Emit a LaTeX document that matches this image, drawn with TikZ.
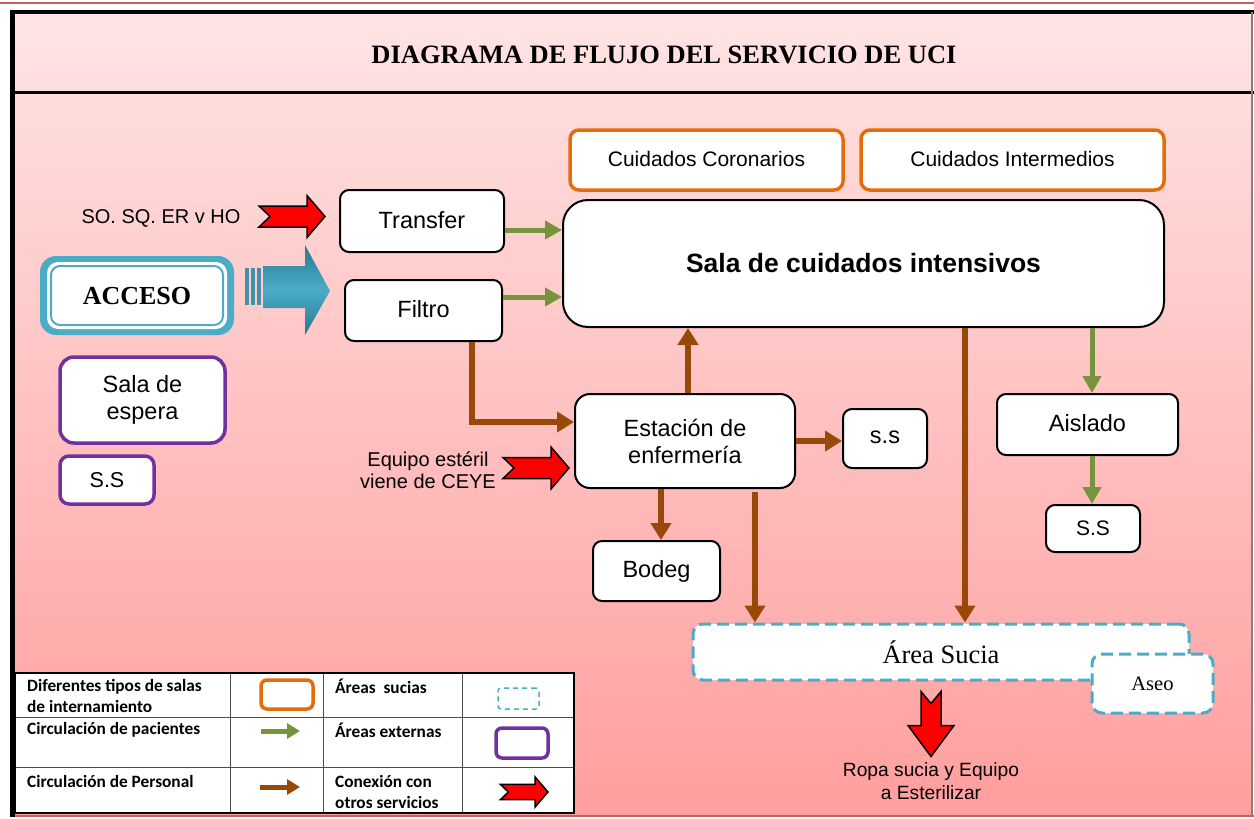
\documentclass[tikz,border=0pt]{standalone}
\usepackage{fontspec}
\setmainfont{Liberation Serif}
\setsansfont{Liberation Sans}
\newfontfamily\calib{Carlito}
\usetikzlibrary{arrows.meta,calc}
\definecolor{orng}{RGB}{228,108,10}
\definecolor{purp}{RGB}{112,48,160}
\definecolor{tealc}{RGB}{75,172,198}
\definecolor{tealdk}{RGB}{40,120,145}
\definecolor{grn}{RGB}{119,147,60}
\definecolor{brn}{RGB}{152,72,7}
\definecolor{bgtop}{RGB}{255,228,228}
\definecolor{bgbot}{RGB}{255,158,158}
\definecolor{frred}{RGB}{200,95,95}
\newcommand{\fsz}[2]{\fontsize{#1}{#2}\selectfont}
\newcommand{\up}[1]{\raisebox{3pt}{#1}}
\tikzset{
  box/.style={draw=black, line width=2pt, fill=white, rounded corners=9pt,
    font=\sffamily\fsz{23.5}{27}, align=center, inner sep=0pt},
  obox/.style={box, draw=orng, line width=3.5pt, font=\sffamily\fsz{21}{24}},
  pbox/.style={box, draw=purp, line width=3.5pt},
  dbox/.style={draw=tealc, line width=3pt, dash pattern=on 12pt off 6pt, fill=white,
    rounded corners=10pt, inner sep=0pt, font=\rmfamily},
  lbl/.style={font=\sffamily\fsz{20}{22.5}, align=center, inner sep=0pt},
  garrow/.style={draw=grn, line width=5pt, -{Triangle[length=17pt,width=18pt]}},
  barrow/.style={draw=brn, line width=6pt, -{Triangle[length=17pt,width=20pt]}},
  legtxt/.style={font=\calib\bfseries\fsz{17.3}{21}, align=left, inner sep=0pt, anchor=west},
  redarrow/.pic={\draw[line width=1.5pt, fill=red, line join=miter]
    (-66,-10.5) -- (-18,-10.5) -- (-18,-21) -- (0,0) -- (-18,21) -- (-18,10.5)
    -- (-66,10.5) -- (-55,0) -- cycle;},
  redown/.pic={\draw[line width=1.5pt, fill=red, line join=miter]
    (-10,-65) -- (0,-53) -- (10,-65) -- (10,-31) -- (23,-31) -- (0,0)
    -- (-23,-31) -- (-10,-31) -- cycle;}
}
\begin{document}
\begin{tikzpicture}[x=1pt,y=-1pt]
\useasboundingbox (0,0) rectangle (1254,819);
\fill[white] (0,0) rectangle (1254,819);
\shade[top color=bgtop, bottom color=bgbot] (10,12) rectangle (1252,816);
% frame
\draw[frred, line width=2pt] (0,3) -- (1254,3);
\draw[black, line width=4pt] (10,12) -- (1254,12);
\draw[black, line width=3pt] (10,92) -- (1254,92);
\draw[frred, line width=2pt] (10,816) -- (1254,816);
\draw[gray, line width=1.5pt] (1252,12) -- (1252,816);
\draw[black, line width=5pt] (12,10) -- (12,817);
\node[font=\rmfamily\bfseries\fsz{26.5}{30}, inner sep=0pt] (title) at (664,55) {DIAGRAMA DE FLUJO DEL SERVICIO DE UCI};

% main nodes
\node[obox, minimum width=273pt, minimum height=60pt] (cc) at (706.5,160) {\up{Cuidados Coronarios}};
\node[obox, minimum width=303pt, minimum height=60pt] (ci) at (1012.5,160) {\up{Cuidados Intermedios}};
\node[box, rounded corners=25pt, minimum width=601pt, minimum height=127pt,
  font=\sffamily\bfseries\fsz{26.5}{30}] (sala) at (863.5,263.5) {Sala de cuidados intensivos};
\node[box, minimum width=164pt, minimum height=62pt] (transfer) at (422,221) {\up{Transfer}};
\node[box, minimum width=157pt, minimum height=61pt] (filtro) at (423.5,310.5) {\up{Filtro}};
\node[box, rounded corners=15pt, minimum width=220pt, minimum height=94pt] (est) at (685,441) {Estación de\\enfermería};
\node[box, minimum width=84pt, minimum height=59pt] (ss1) at (885,438.5) {\up{s.s}};
\node[box, minimum width=127pt, minimum height=60pt] (bodeg) at (656.5,571) {Bodeg};
\node[box, minimum width=181pt, minimum height=61pt] (aislado) at (1087.5,424.5) {\up{Aislado}};
\node[box, minimum width=94pt, minimum height=47pt, font=\sffamily\fsz{21}{24}] (ss2) at (1093,528.5) {S.S};
\node[pbox, rounded corners=14pt, minimum width=165pt, minimum height=86pt] (espera) at (142.5,400) {Sala de\\espera};
\node[pbox, minimum width=94pt, minimum height=48pt, font=\sffamily\fsz{21.5}{24}] (ssl) at (107,480) {S.S};
\node[dbox, minimum width=496pt, minimum height=56pt, font=\rmfamily\fsz{26.5}{30}] (sucia) at (941,652) {Área Sucia};
\node[dbox, minimum width=121pt, minimum height=59pt, font=\rmfamily\fsz{20.5}{24}] (aseo) at (1152.5,683.5) {Aseo};

% ACCESO
\fill[tealc, rounded corners=16pt] (40,256) rectangle (234,335);
\fill[white, rounded corners=11pt] (47,262) rectangle (227,329);
\draw[tealc, line width=2pt, rounded corners=9pt] (51,266) rectangle (223,325);
\node[font=\rmfamily\bfseries\fsz{26}{30}, inner sep=0pt] (acceso) at (137,296) {ACCESO};

% teal block arrow
\fill[tealc!85!black] (245,268) rectangle (249,305);
\fill[tealc!85!black] (251,268) rectangle (255,305);
\fill[tealc!85!black] (257,268) rectangle (261,305);
\shade[top color=tealdk, bottom color=tealdk, middle color=tealc]
  (263,266) -- (305,266) -- (305,245) -- (330,291) -- (305,335) -- (305,308) -- (263,308) -- cycle;

% labels
\node[lbl] (so) at (161,218) {SO. SQ. ER v HO};
\node[lbl] (ceye) at (428,470) {Equipo estéril\\viene de CEYE};
\node[lbl, font=\sffamily\fsz{19.2}{23}] (ropa) at (931,781) {Ropa sucia y Equipo\\a Esterilizar};

% red arrows
\coordinate (r1) at ([xshift=-14pt,yshift=4.5pt]transfer.west);
\pic at (r1) {redarrow};
\coordinate (r2) at ([xshift=-5pt,yshift=-27pt]est.west);
\pic at (r2) {redarrow};
\coordinate (r3) at ([xshift=-10pt,yshift=-75pt]sucia.south);
\pic at (r3) {redown};

% connectors
\coordinate (t1) at ([yshift=-9pt]transfer.east);
\draw[garrow] (t1) -- (t1 -| sala.west);
\coordinate (f1) at ([yshift=13.5pt]filtro.east);
\draw[garrow] (f1) -- (f1 -| sala.west);
\coordinate (f2) at ([xshift=48.5pt]filtro.south);
\coordinate (e1) at ([yshift=19pt]est.west);
\draw[barrow] (f2) |- (e1);
\coordinate (e2) at ([xshift=3pt]est.north);
\draw[barrow] (e2) -- (e2 |- sala.south);
\draw[barrow] (est.east) -- (est.east -| ss1.west);
\coordinate (e3) at ([xshift=-24pt]est.south);
\draw[barrow] (e3) -- (e3 |- bodeg.north);
\coordinate (e4) at ([xshift=70pt,yshift=-3pt]est.south);
\draw[barrow] (e4) -- (e4 |- sucia.north);
\coordinate (s1) at ([xshift=101.5pt]sala.south);
\draw[barrow] (s1) -- (s1 |- sucia.north);
\coordinate (s2) at ([xshift=228.5pt]sala.south);
\draw[garrow] (s2) -- (s2 |- aislado.north);
\coordinate (a1) at ([xshift=4.5pt]aislado.south);
\draw[garrow] (a1) -- (a1 |- ss2.north);

% legend
\fill[white] (15,673) rectangle (574,813);
\draw[black!70, line width=1pt] (230,673) -- (230,813) (323,673) -- (323,813) (462,673) -- (462,813)
  (15,717) -- (574,717) (15,767) -- (574,767);
\draw[black, line width=1.3pt] (15,673) rectangle (574,813);
\node[legtxt] (l1) at (27,696) {Diferentes tipos de salas\\de internamiento};
\node[legtxt] (l2) at (27,730) {Circulación de pacientes};
\node[legtxt] (l3) at (27,781) {Circulación de Personal};
\node[legtxt] (l4) at (335,686) {Áreas\ \ sucias};
\node[legtxt] (l5) at (335,730) {Áreas externas};
\node[legtxt] (l6) at (335,792) {Conexión con\\otros servicios};
\node[draw=orng, line width=3.5pt, rounded corners=6pt, minimum width=52pt, minimum height=29pt, inner sep=0pt] (lo) at (287,694.5) {};
\node[draw=tealc, line width=1.5pt, dash pattern=on 5pt off 4pt, rounded corners=3pt, minimum width=41pt, minimum height=21pt, inner sep=0pt] (ld) at (518.5,698.5) {};
\node[draw=purp, line width=3.5pt, rounded corners=6pt, minimum width=52pt, minimum height=30pt, inner sep=0pt] (lp) at (522,743) {};
\coordinate (lg1) at (261,731);
\coordinate (lg2) at (300,731);
\draw[draw=grn, line width=5pt, -{Triangle[length=13pt,width=15pt]}] (lg1) -- (lg2);
\coordinate (lb1) at (260,787);
\coordinate (lb2) at (300,787);
\draw[draw=brn, line width=5pt, -{Triangle[length=13pt,width=15pt]}] (lb1) -- (lb2);
\coordinate (lr) at (548,792);
\pic[scale=0.72] at (lr) {redarrow};
\end{tikzpicture}
\end{document}
